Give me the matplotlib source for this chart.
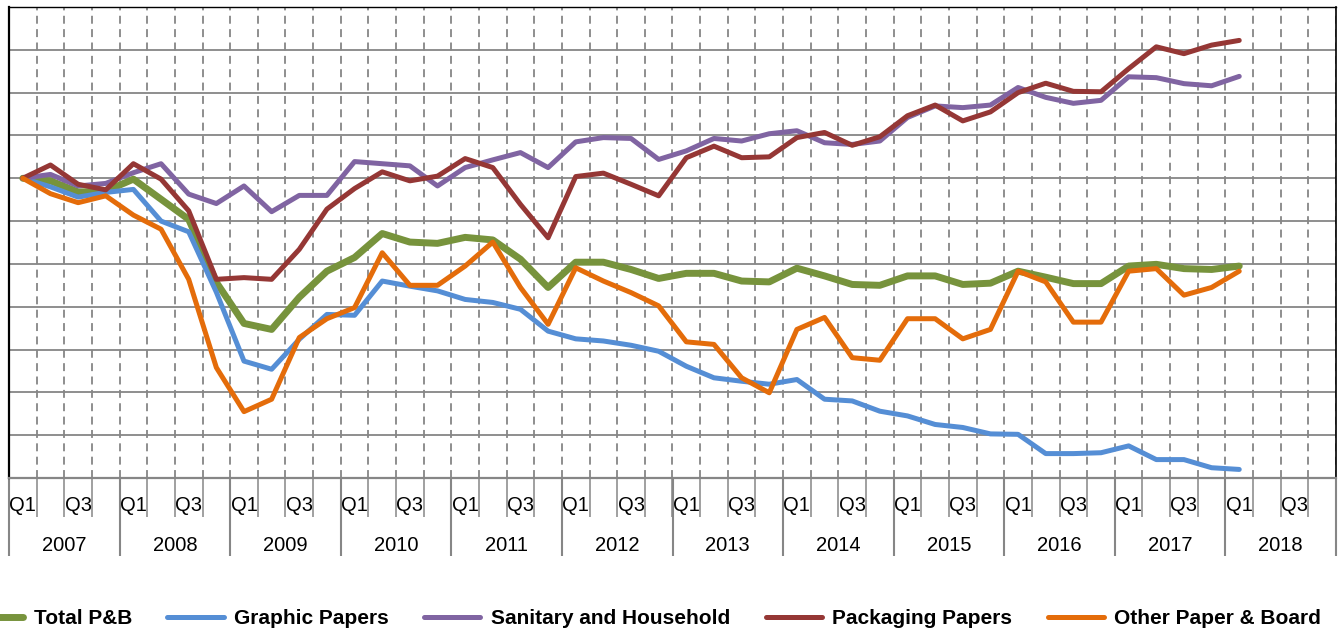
import matplotlib.pyplot as plt

plt.rcParams['font.family'] = ['Liberation Sans', 'DejaVu Sans']

# categories: quarters 2007-2018, data 2007Q1 .. 2018Q1 (index 2007Q1 = 100)
years = [str(y) for y in range(2007, 2019)]
quarters = ['Q1', 'Q2', 'Q3', 'Q4']

total_pb = [100, 99.4, 96.8, 97.0, 99.8, 95.1, 90.4, 75.7, 66.1, 64.7, 72.2, 78.3,
            81.5, 87.1, 85.1, 84.8, 86.2, 85.6, 81.1, 74.5, 80.4, 80.4, 78.7, 76.6,
            77.8, 77.8, 76.0, 75.8, 79.0, 77.2, 75.2, 75.0, 77.2, 77.2, 75.2, 75.5,
            78.3, 76.9, 75.4, 75.4, 79.5, 79.9, 78.9, 78.7, 79.5]
graphic = [100, 98.0, 95.6, 96.7, 97.4, 90.0, 87.5, 73.4, 57.3, 55.4, 62.4, 68.2,
           68.0, 76.0, 74.8, 73.7, 71.7, 71.0, 69.4, 64.3, 62.5, 62.0, 61.0, 59.6,
           56.1, 53.4, 52.6, 51.9, 53.0, 48.4, 48.0, 45.6, 44.5, 42.5, 41.8, 40.3,
           40.2, 35.7, 35.7, 35.9, 37.5, 34.3, 34.3, 32.4, 32.0]
sanitary = [100, 100.9, 98.2, 98.8, 101.3, 103.4, 96.3, 94.1, 98.2, 92.2, 96.0, 96.0,
            103.9, 103.4, 102.9, 98.2, 102.5, 104.3, 106.0, 102.5, 108.5, 109.5, 109.3, 104.4,
            106.4, 109.3, 108.7, 110.4, 111.1, 108.3, 107.9, 108.7, 114.2, 116.9, 116.5, 117.1,
            121.2, 118.9, 117.5, 118.2, 123.7, 123.5, 122.1, 121.6, 123.8]
packaging = [100, 103.1, 98.6, 97.3, 103.4, 99.8, 92.4, 76.4, 76.8, 76.4, 83.4, 92.8,
             97.6, 101.5, 99.4, 100.5, 104.6, 102.5, 93.9, 86.1, 100.4, 101.2, 98.6, 95.9,
             104.8, 107.5, 104.8, 105.0, 109.5, 110.7, 107.7, 109.7, 114.6, 117.1, 113.4, 115.5,
             120.0, 122.2, 120.3, 120.2, 125.6, 130.7, 129.1, 131.1, 132.2]
other_pb = [100, 96.4, 94.3, 95.9, 91.4, 88.1, 76.4, 55.8, 45.5, 48.4, 62.8, 67.2,
            69.8, 82.6, 75.0, 75.0, 79.5, 85.1, 74.5, 65.9, 79.1, 76.0, 73.3, 70.2,
            61.8, 61.2, 53.4, 49.9, 64.7, 67.5, 58.1, 57.5, 67.2, 67.2, 62.5, 64.7,
            78.3, 75.8, 66.4, 66.4, 78.3, 78.9, 72.7, 74.5, 78.3]

series = [('Total P&B', total_pb, '#77933C', 5.0),
          ('Graphic Papers', graphic, '#558ED5', 3.6),
          ('Sanitary and Household', sanitary, '#8064A2', 3.6),
          ('Packaging Papers', packaging, '#953735', 3.6),
          ('Other Paper & Board', other_pb, '#E46C0A', 3.6)]

grey = '#868686'
W, H = 1343, 631
fig = plt.figure(figsize=(W / 100, H / 100), dpi=100)
ax = fig.add_axes([9 / W, 1 - 478 / H, 1327 / W, 471 / H])

for name, vals, col, lw in series:
    ax.plot(range(len(vals)), vals, color=col, lw=lw, label=name,
            solid_capstyle='round', solid_joinstyle='round')

n = len(years) * len(quarters)
ax.set_xlim(-0.5, n - 0.5)
ax.set_ylim(30, 140)
ax.set_yticks(range(30, 141, 10))
ax.tick_params(axis='y', length=0, labelleft=False)
ax.set_axisbelow(True)
ax.grid(axis='y', color=grey, lw=1.3, linestyle='-')

# quarter labels (only Q1/Q3 fit) and category separators
qlabels = quarters * len(years)
ax.set_xticks(range(0, n, 2), qlabels[::2])
ax.set_xticks([k - 0.5 for k in range(n + 1)], minor=True)
ax.tick_params(axis='x', which='major', length=0, pad=13, labelsize=14.5)
ax.tick_params(axis='x', which='minor', length=28, width=1.1, color=grey, direction='out')
ax.grid(axis='x', which='minor', color=grey, lw=1.3, linestyle=(0, (4.4, 3)))

# year level
sec = ax.secondary_xaxis('bottom')
sec.set_xticks([k * 4 - 0.5 for k in range(len(years) + 1)])
sec.set_xticks([k * 4 + 1.5 for k in range(len(years))], years, minor=True)
sec.tick_params(axis='x', which='major', length=56, width=1.5, color=grey,
                labelbottom=False, direction='out')
sec.tick_params(axis='x', which='minor', length=0, pad=41.5, labelsize=14.5)
sec.spines['bottom'].set_visible(False)

for s in ['left', 'right', 'top']:
    ax.spines[s].set_color('black')
ax.spines['left'].set_linewidth(1.6)
ax.spines['right'].set_linewidth(1.2)
ax.spines['top'].set_linewidth(1.0)
ax.spines['bottom'].set_color(grey)
ax.spines['bottom'].set_linewidth(1.6)

fig.legend(loc='center', bbox_to_anchor=(644 / W, 1 - 619 / H), ncol=5,
           frameon=False, prop={'weight': 'bold', 'size': 15},
           handlelength=2.7, handletextpad=0.5, columnspacing=1.7, borderpad=0)

fig.savefig('out.png', dpi=100)
